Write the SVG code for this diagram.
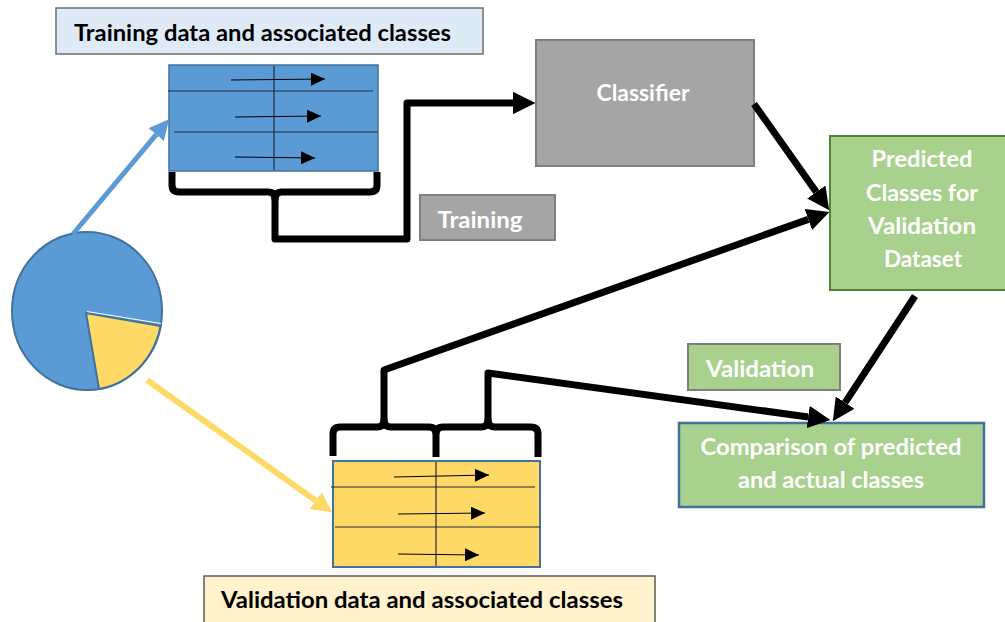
<svg xmlns="http://www.w3.org/2000/svg" width="1005" height="622" viewBox="0 0 1005 622">
<style>
.t{font-family:Lato,"Open Sans","Liberation Sans",sans-serif;font-weight:bold;font-size:23px}
.w{fill:#ffffff}
.k{fill:#000000}
.thick{fill:none;stroke:#000;stroke-width:7;stroke-linejoin:round}
.thin{fill:none;stroke:#000;stroke-width:1}
.grid{stroke:#1f2d3d;stroke-width:1.2}
</style>
<defs>
<marker id="ah" viewBox="0 0 10 10" refX="0" refY="5" markerWidth="3.2" markerHeight="3.2" markerUnits="strokeWidth" orient="auto"><path d="M0,0 L10,5 L0,10 z" fill="#000"/></marker>
<marker id="ahB" viewBox="0 0 10 10" refX="0" refY="5" markerWidth="4" markerHeight="4" markerUnits="strokeWidth" orient="auto"><path d="M0,0 L10,5 L0,10 z" fill="#5B9BD5"/></marker>
<marker id="ahY" viewBox="0 0 10 10" refX="0" refY="5" markerWidth="3.4" markerHeight="3.4" markerUnits="strokeWidth" orient="auto"><path d="M0,0 L10,5 L0,10 z" fill="#FFD966"/></marker>
<marker id="ahs" viewBox="0 0 10 10" refX="10" refY="5" markerWidth="14" markerHeight="13" markerUnits="userSpaceOnUse" orient="auto" preserveAspectRatio="none"><path d="M0,0 L10,5 L0,10 z" fill="#000"/></marker>
</defs>

<g id="training-title">
<rect x="56" y="8" width="427" height="46" fill="#DEEBF7" stroke="#6f6f6f" stroke-width="1.5"/>
<text class="t k" x="74" y="41" textLength="377" lengthAdjust="spacingAndGlyphs">Training data and associated classes</text>
</g>

<g id="training-table">
<rect x="169" y="65" width="209" height="106" fill="#5B9BD5" stroke="#41719C" stroke-width="1.5"/>
<line class="grid" x1="168" y1="91" x2="373" y2="91"/>
<line class="grid" x1="174" y1="132" x2="378" y2="132"/>
<line class="grid" x1="274" y1="66" x2="274" y2="170"/>
<line class="thin" x1="231" y1="80" x2="325" y2="79" marker-end="url(#ahs)"/>
<line class="thin" x1="235" y1="117" x2="321" y2="116" marker-end="url(#ahs)"/>
<line class="thin" x1="235" y1="157" x2="315" y2="158" marker-end="url(#ahs)"/>
</g>

<g id="pie">
<ellipse cx="87" cy="311" rx="75" ry="79" fill="#5B9BD5" stroke="#41719C" stroke-width="2"/>
<path d="M86,313 L160.5,326 A75,79 0 0 1 99,389 Z" fill="#FFD966" stroke="#41719C" stroke-width="2" stroke-linejoin="round"/>
<line x1="87" y1="311.5" x2="161" y2="323.5" stroke="#ffffff" stroke-width="1"/>
</g>

<g id="classifier">
<rect x="536" y="40" width="218" height="126" fill="#A5A5A5" stroke="#7F7F7F" stroke-width="2"/>
<text class="t w" x="643" y="101" text-anchor="middle" textLength="93" lengthAdjust="spacingAndGlyphs">Classifier</text>
</g>

<g id="training-label">
<rect x="420" y="195" width="135" height="45" fill="#A5A5A5" stroke="#7F7F7F" stroke-width="2"/>
<text class="t w" x="480" y="228" text-anchor="middle" textLength="85" lengthAdjust="spacingAndGlyphs">Training</text>
</g>

<g id="predicted">
<rect x="830" y="136" width="176" height="154" fill="#A9D18E" stroke="#548235" stroke-width="2"/>
<text class="t w" x="922" y="167" text-anchor="middle" textLength="101" lengthAdjust="spacingAndGlyphs">Predicted</text>
<text class="t w" x="922" y="201" text-anchor="middle" textLength="112" lengthAdjust="spacingAndGlyphs">Classes for</text>
<text class="t w" x="922" y="234" text-anchor="middle" textLength="108" lengthAdjust="spacingAndGlyphs">Validation</text>
<text class="t w" x="923" y="267" text-anchor="middle" textLength="78" lengthAdjust="spacingAndGlyphs">Dataset</text>
</g>

<g id="validation-label">
<rect x="688" y="344" width="152" height="46" fill="#A9D18E" stroke="#7F7F7F" stroke-width="2"/>
<text class="t w" x="760" y="377" text-anchor="middle" textLength="108" lengthAdjust="spacingAndGlyphs">Validation</text>
</g>

<g id="comparison">
<rect x="679" y="423" width="305" height="84" fill="#A9D18E" stroke="#41719C" stroke-width="2.5"/>
<text class="t w" x="831" y="455" text-anchor="middle" textLength="261" lengthAdjust="spacingAndGlyphs">Comparison of predicted</text>
<text class="t w" x="831" y="488" text-anchor="middle" textLength="186" lengthAdjust="spacingAndGlyphs">and actual classes</text>
</g>

<g id="validation-table">
<rect x="333" y="461" width="207" height="106" fill="#FFD966" stroke="#41719C" stroke-width="2"/>
<line class="grid" x1="331" y1="487" x2="535" y2="487"/>
<line class="grid" x1="335" y1="527" x2="540" y2="527"/>
<line class="grid" x1="436" y1="462" x2="436" y2="566"/>
<line class="thin" x1="394" y1="477" x2="489" y2="475" marker-end="url(#ahs)"/>
<line class="thin" x1="398" y1="514" x2="485" y2="513" marker-end="url(#ahs)"/>
<line class="thin" x1="398" y1="554" x2="479" y2="555" marker-end="url(#ahs)"/>
</g>

<g id="validation-title">
<rect x="204" y="576" width="451" height="50" fill="#FFF2CC" stroke="#595959" stroke-width="1.5"/>
<text class="t k" x="221" y="608" textLength="402" lengthAdjust="spacingAndGlyphs">Validation data and associated classes</text>
</g>

<g id="connectors">
<line x1="73" y1="234" x2="156.2" y2="134.6" stroke="#5B9BD5" stroke-width="5" marker-end="url(#ahB)"/>
<line x1="147" y1="380" x2="315.7" y2="500.6" stroke="#FFD966" stroke-width="6" marker-end="url(#ahY)"/>
<path class="thick" d="M172,172 V185 Q172,192 179,192 H268 Q275,192 275,199 Q275,192 282,192 H370 Q377,192 377,185 V172"/>
<path class="thick" d="M275,196 V239 H407 V103 H513" marker-end="url(#ah)"/>
<line class="thick" x1="754" y1="104" x2="816.3" y2="192" marker-end="url(#ah)"/>
<path class="thick" d="M333,456 V434 Q333,427 340,427 H377 Q384,427 384,420 Q384,427 391,427 H429 Q436,427 436,434 V457"/>
<path class="thick" d="M436,434 Q436,427 443,427 H481 Q488,427 488,420 Q488,427 495,427 H531 Q538,427 538,434 V457"/>
<path class="thick" d="M384,423 V370 L808.3,219.4" marker-end="url(#ah)"/>
<path class="thick" d="M488,423 V373 L808.2,417" marker-end="url(#ah)"/>
<line class="thick" x1="915" y1="296" x2="845.1" y2="402.6" marker-end="url(#ah)"/>
</g>
</svg>
